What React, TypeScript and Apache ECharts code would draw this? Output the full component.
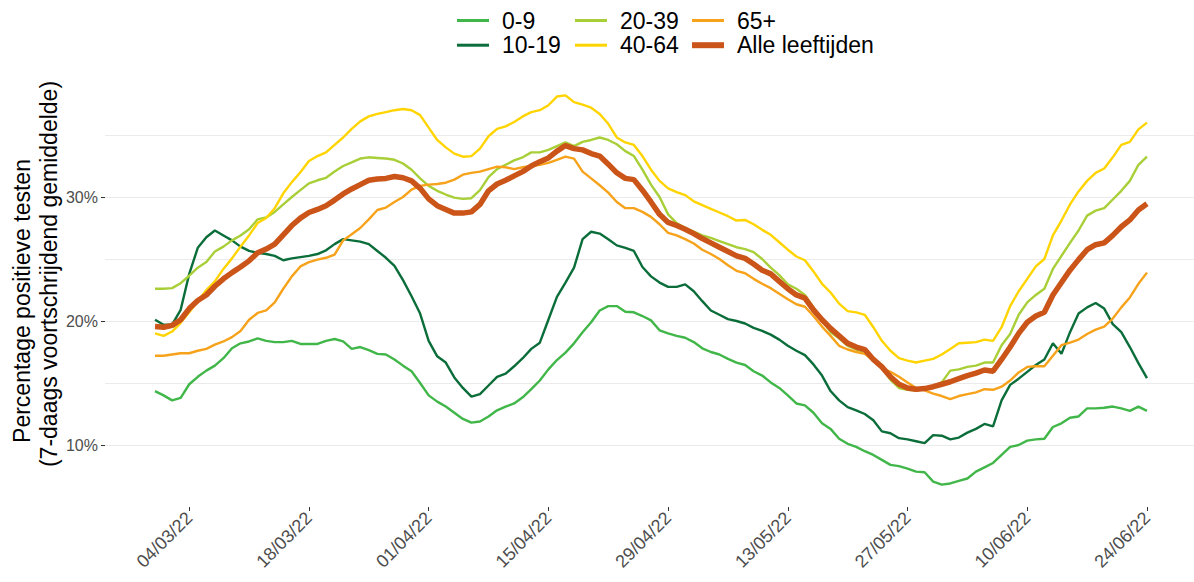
import React, { useEffect, useRef } from 'react';
import * as echarts from 'echarts';

const FONT = "'Liberation Sans', Arial, Helvetica, sans-serif";

const AGE_GROUPS = ['0-9', '10-19', '20-39', '40-64', '65+', 'Alle leeftijden'];
const COLORS = ['#41B649', '#0B6E3A', '#A8CF38', '#FFD400', '#F7A21B', '#CB5418'];
const WIDTHS = [2.4, 2.4, 2.4, 2.4, 2.4, 5.5];

// x = day index from 28/02/22 (0) to 24/06/22 (116)
const TICK_DAYS = [4, 18, 32, 46, 60, 74, 88, 102, 116];
const TICK_LABELS = ['04/03/22', '18/03/22', '01/04/22', '15/04/22', '29/04/22', '13/05/22', '27/05/22', '10/06/22', '24/06/22'];
const Y_TICKS = [10, 20, 30];

const V_0_9 = [
  14.35, 14.0, 13.6, 13.8, 14.9, 15.5, 16.0, 16.4, 17.0, 17.8,
  18.2, 18.35, 18.6, 18.4, 18.3, 18.3, 18.4, 18.15, 18.15, 18.15,
  18.4, 18.55, 18.35, 17.75, 17.9, 17.65, 17.35, 17.3, 16.9, 16.4,
  15.95, 15.0, 14.0, 13.5, 13.1, 12.6, 12.1, 11.8, 11.9, 12.3,
  12.8, 13.1, 13.35, 13.85, 14.5, 15.2, 16.1, 16.85, 17.45, 18.2,
  19.1, 19.9, 20.85, 21.2, 21.2, 20.75, 20.7, 20.4, 20.05, 19.25,
  19.0, 18.8, 18.65, 18.3, 17.8, 17.5, 17.3, 16.95, 16.65, 16.45,
  15.95, 15.6, 15.05, 14.6, 14.0, 13.35, 13.2, 12.6, 11.75, 11.3,
  10.5, 10.1, 9.85, 9.5, 9.2, 8.8, 8.4, 8.3, 8.1, 7.85,
  7.8, 7.05, 6.8, 6.9, 7.1, 7.3, 7.85, 8.2, 8.55, 9.2,
  9.85, 10.0, 10.35, 10.45, 10.5, 11.45, 11.75, 12.2, 12.3, 12.95,
  12.95, 13.0, 13.1, 12.95, 12.75, 13.1, 12.75,
];

const V_10_19 = [
  20.1, 19.7, 19.7, 20.9, 23.8, 25.9, 26.75, 27.3, 26.9, 26.5,
  26.0, 25.65, 25.5, 25.4, 25.25, 24.9, 25.05, 25.15, 25.25, 25.4,
  25.7, 26.2, 26.6, 26.5, 26.4, 26.2, 25.65, 25.1, 24.45, 23.3,
  22.0, 20.6, 18.4, 17.15, 16.65, 15.45, 14.6, 13.9, 14.1, 14.8,
  15.5, 15.75, 16.35, 17.0, 17.75, 18.25, 20.1, 21.95, 23.1, 24.3,
  26.6, 27.2, 27.05, 26.6, 26.1, 25.9, 25.65, 24.35, 23.6, 23.1,
  22.75, 22.75, 22.95, 22.4, 21.6, 20.85, 20.5, 20.15, 20.0, 19.8,
  19.45, 19.2, 18.9, 18.5, 18.0, 17.6, 17.25, 16.5, 15.6, 14.35,
  13.6, 13.05, 12.8, 12.5, 12.0, 11.1, 10.95, 10.55, 10.45, 10.3,
  10.15, 10.8, 10.75, 10.45, 10.6, 11.0, 11.3, 11.7, 11.5, 13.6,
  14.85, 15.35, 15.9, 16.45, 16.9, 18.2, 17.35, 19.1, 20.6, 21.1,
  21.45, 21.0, 19.75, 19.1, 17.9, 16.6, 15.4,
];

const V_20_39 = [
  22.6, 22.6, 22.65, 23.05, 23.65, 24.3, 24.75, 25.6, 26.0, 26.5,
  26.9, 27.4, 28.2, 28.35, 28.8, 29.4, 30.0, 30.55, 31.1, 31.35,
  31.55, 32.05, 32.5, 32.8, 33.1, 33.2, 33.15, 33.1, 33.0, 32.7,
  32.2, 31.5, 30.9, 30.5, 30.2, 29.95, 29.85, 29.9, 30.55, 31.6,
  32.25, 32.6, 32.95, 33.2, 33.6, 33.6, 33.8, 34.1, 34.4, 34.1,
  34.45, 34.6, 34.8, 34.6, 34.25, 33.7, 33.3, 32.2, 31.0, 30.0,
  28.6, 27.9, 27.5, 27.2, 26.9, 26.7, 26.45, 26.2, 25.95, 25.8,
  25.55, 25.0, 24.3, 23.7, 22.95, 22.6, 22.1, 21.1, 20.1, 19.1,
  18.6, 18.0, 17.7, 17.5, 16.9, 16.2, 15.25, 14.6, 14.45, 14.4,
  14.5, 14.7, 15.05, 16.0, 16.1, 16.3, 16.4, 16.65, 16.65, 18.05,
  18.95, 20.5, 21.5, 22.1, 22.6, 24.2, 25.25, 26.3, 27.3, 28.5,
  28.9, 29.1, 29.8, 30.5, 31.3, 32.6, 33.25,
];

const V_40_64 = [
  19.0, 18.8, 19.15, 19.85, 20.7, 21.6, 22.5, 23.2, 24.2, 25.05,
  26.0, 26.9, 27.9, 28.3, 29.1, 30.3, 31.2, 32.0, 32.9, 33.3,
  33.6, 34.2, 34.8, 35.5, 36.1, 36.5, 36.7, 36.85, 37.0, 37.1,
  37.0, 36.6, 35.6, 34.6, 34.0, 33.5, 33.25, 33.3, 33.9, 34.9,
  35.5, 35.7, 36.05, 36.5, 36.85, 37.0, 37.4, 38.1, 38.2, 37.65,
  37.45, 37.2, 36.7, 35.9, 34.8, 34.4, 34.2, 33.3, 32.2, 31.3,
  30.7, 30.4, 30.15, 29.65, 29.35, 29.05, 28.75, 28.45, 28.1, 28.15,
  27.8, 27.35, 26.95, 26.35, 25.75, 25.2, 24.9, 24.0, 23.0, 22.3,
  21.4, 20.8, 20.7, 20.5, 19.5, 18.4, 17.6, 17.0, 16.8, 16.65,
  16.8, 16.95, 17.3, 17.75, 18.2, 18.25, 18.3, 18.5, 18.4, 19.5,
  21.2, 22.4, 23.4, 24.4, 25.0, 26.9, 28.1, 29.4, 30.45, 31.3,
  31.95, 32.3, 33.2, 34.2, 34.45, 35.45, 36.0,
];

const V_65 = [
  17.2, 17.2, 17.3, 17.4, 17.4, 17.6, 17.75, 18.1, 18.35, 18.7,
  19.2, 20.1, 20.65, 20.85, 21.5, 22.6, 23.6, 24.4, 24.75, 24.95,
  25.1, 25.35, 26.5, 27.0, 27.5, 28.2, 28.95, 29.15, 29.6, 30.0,
  30.6, 30.9, 31.0, 31.05, 31.15, 31.4, 31.8, 31.95, 32.05, 32.25,
  32.45, 32.4, 32.25, 32.4, 32.5, 32.6, 32.75, 33.0, 33.25, 33.1,
  32.05, 31.5, 30.95, 30.35, 29.6, 29.1, 29.1, 28.8, 28.4, 27.8,
  27.1, 26.9, 26.6, 26.25, 25.75, 25.4, 25.0, 24.5, 24.05, 23.85,
  23.4, 23.0, 22.65, 22.2, 21.75, 21.35, 21.15, 20.4, 19.55, 18.8,
  18.0, 17.7, 17.5, 17.35, 16.8, 16.2, 15.9, 15.5, 15.05, 14.6,
  14.4, 14.15, 13.95, 13.7, 13.95, 14.1, 14.25, 14.5, 14.45, 14.7,
  15.2, 15.85, 16.3, 16.35, 16.35, 17.2, 18.05, 18.25, 18.5, 18.95,
  19.3, 19.55, 20.2, 21.1, 21.9, 23.0, 23.9,
];

const V_ALLE = [
  19.55, 19.5, 19.65, 20.1, 21.0, 21.65, 22.1, 22.8, 23.4, 23.9,
  24.35, 24.85, 25.5, 25.8, 26.2, 26.95, 27.7, 28.3, 28.75, 29.0,
  29.3, 29.75, 30.25, 30.65, 31.0, 31.35, 31.45, 31.5, 31.65, 31.55,
  31.3, 30.7, 29.85, 29.3, 29.0, 28.7, 28.7, 28.8, 29.4, 30.5,
  31.05, 31.35, 31.7, 32.05, 32.5, 32.85, 33.15, 33.7, 34.15, 33.9,
  33.8, 33.5, 33.3, 32.65, 31.95, 31.5, 31.4, 30.55, 29.6, 28.6,
  27.95, 27.7, 27.4, 27.05, 26.65, 26.3, 25.95, 25.6, 25.25, 25.05,
  24.6, 24.1, 23.8, 23.2, 22.6, 22.1, 21.85, 20.9, 20.1, 19.4,
  18.8, 18.2, 17.9, 17.7, 16.9, 16.3, 15.5, 14.9, 14.6, 14.5,
  14.55, 14.7, 14.9, 15.1, 15.35, 15.6, 15.8, 16.05, 15.95, 16.9,
  17.9, 19.0, 19.9, 20.4, 20.7, 22.1, 23.1, 24.1, 24.95, 25.75,
  26.15, 26.3, 26.9, 27.6, 28.15, 28.95, 29.45,
];

const SERIES_VALUES = [V_0_9, V_10_19, V_20_39, V_40_64, V_65, V_ALLE];

const THIN_ICON = 'path://M0,0L32,0L32,3L0,3Z';
const THICK_ICON = 'path://M0,0L32,0L32,6L0,6Z';

export default function App() {
  const ref = useRef<HTMLDivElement>(null);

  useEffect(() => {
    document.body.style.margin = '0';
    if (!ref.current) return;
    const chart = echarts.init(ref.current, undefined, { renderer: 'svg' });

    const legendText = {
      fontSize: 23,
      lineHeight: 20,
      color: '#000000',
      fontFamily: FONT,
      padding: [0, 0, 0, 8],
    };
    const legendBase = {
      orient: 'vertical' as const,
      top: 4,
      itemWidth: 32,
      itemHeight: 14,
      itemGap: 1.7,
      symbolKeepAspect: true,
      textStyle: legendText,
      selectedMode: false,
    };
    const item = (name: string) => ({
      name,
      icon: name === 'Alle leeftijden' ? THICK_ICON : THIN_ICON,
    });

    const axisLabelBase = {
      fontSize: 16,
      color: '#4D4D4D',
      fontFamily: FONT,
    };

    chart.setOption({
      animation: false,
      backgroundColor: '#ffffff',
      textStyle: { fontFamily: FONT },
      grid: { left: 105, right: 0, top: 73, bottom: 75, containLabel: false },
      legend: [
        { ...legendBase, left: 452, data: [item('0-9'), item('10-19')] },
        { ...legendBase, left: 570, data: [item('20-39'), item('40-64')] },
        { ...legendBase, left: 687, data: [item('65+'), item('Alle leeftijden')] },
      ],
      xAxis: {
        type: 'value',
        min: -5.85,
        max: 121.5,
        axisLine: { show: false, onZero: false },
        splitLine: { show: false },
        axisTick: {
          show: true,
          customValues: TICK_DAYS,
          length: 4,
          lineStyle: { color: '#333333', width: 1 },
        },
        axisLabel: {
          ...axisLabelBase,
          customValues: TICK_DAYS,
          rotate: 45,
          fontSize: 18,
          margin: 8,
          formatter: (v: number) => {
            const k = TICK_DAYS.indexOf(Math.round(v));
            return k >= 0 ? TICK_LABELS[k] : '';
          },
        },
      },
      yAxis: [
        {
          type: 'value',
          min: 5,
          max: 40,
          axisLine: { show: false, onZero: false },
          splitLine: { show: false },
          axisTick: {
            show: true,
            customValues: Y_TICKS,
            length: 4,
            lineStyle: { color: '#333333', width: 1 },
          },
          axisLabel: {
            ...axisLabelBase,
            customValues: Y_TICKS,
            margin: 7,
            formatter: (v: number) => `${v}%`,
          },
        },
        {
          type: 'value',
          min: 5,
          max: 40,
          interval: 5,
          position: 'left',
          axisLine: { show: false, onZero: false },
          axisTick: { show: false },
          axisLabel: { show: false },
          splitLine: {
            show: true,
            showMinLine: false,
            showMaxLine: false,
            lineStyle: { color: '#EBEBEB', width: 1.2 },
          },
        },
      ],
      graphic: [
        {
          type: 'text',
          x: 22,
          y: 301,
          rotation: Math.PI / 2,
          style: {
            text: 'Percentage positieve testen',
            align: 'center',
            verticalAlign: 'middle',
            fontSize: 23,
            fontFamily: FONT,
            fill: '#000000',
          },
        },
        {
          type: 'text',
          x: 49,
          y: 274,
          rotation: Math.PI / 2,
          style: {
            text: '(7-daags voortschrijdend gemiddelde)',
            align: 'center',
            verticalAlign: 'middle',
            fontSize: 23,
            fontFamily: FONT,
            fill: '#000000',
          },
        },
      ],
      series: AGE_GROUPS.map((name, k) => ({
        name,
        type: 'line',
        symbol: 'none',
        yAxisIndex: 0,
        z: k === 5 ? 5 : 2,
        color: COLORS[k],
        lineStyle: { color: COLORS[k], width: WIDTHS[k] },
        data: SERIES_VALUES[k].map((v, i) => [i, v]),
      })),
    });

    return () => chart.dispose();
  }, []);

  return <div ref={ref} style={{ width: 1194, height: 582 }} />;
}
